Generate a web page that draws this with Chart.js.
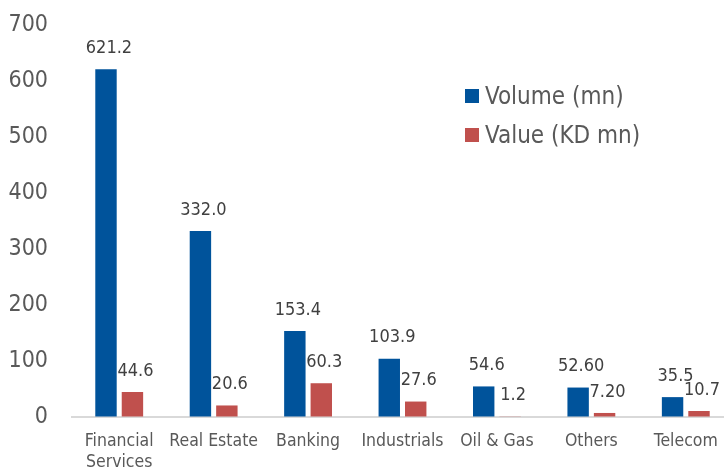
<!DOCTYPE html>
<html>
<head>
<meta charset="utf-8">
<script src="https://cdn.jsdelivr.net/npm/chart.js@4"></script>
<style>
  html, body { margin: 0; padding: 0; background: #fff; overflow: hidden; }
  #wrap { width: 734px; height: 470px; position: relative; }
</style>
</head>
<body>
<div id="wrap"><canvas id="sectorChart"></canvas></div>
<script>
const categories = [['Financial', 'Services'], 'Real Estate', 'Banking', 'Industrials', 'Oil & Gas', 'Others', 'Telecom'];
const volumeData = [621.2, 332.0, 153.4, 103.9, 54.6, 52.6, 35.5];
const valueData = [44.6, 20.6, 60.3, 27.6, 1.2, 7.2, 10.7];
const volumeLabels = ['621.2', '332.0', '153.4', '103.9', '54.6', '52.60', '35.5'];
const valueLabels = ['44.6', '20.6', '60.3', '27.6', '1.2', '7.20', '10.7'];
const yTicks = [0, 100, 200, 300, 400, 500, 600, 700];

const FONT = "'DejaVu Sans Condensed', 'DejaVu Sans', sans-serif";

// labels above each bar, drawn from the bar elements
const barLabels = {
  id: 'barLabels',
  afterDatasetsDraw(chart) {
    const ctx = chart.ctx;
    ctx.save();
    ctx.font = '18px ' + FONT;
    ctx.fillStyle = '#404040';
    ctx.textAlign = 'center';
    ctx.textBaseline = 'middle';
    chart.data.datasets.forEach((ds, i) => {
      const meta = chart.getDatasetMeta(i);
      meta.data.forEach((bar, j) => {
        ctx.fillText(ds.valueLabels[j], bar.x + 3, bar.y - 21);
      });
    });
    ctx.restore();
  }
};

// legend box inside the plot, top right
const sideLegend = {
  id: 'sideLegend',
  afterDraw(chart, args, opts) {
    const ctx = chart.ctx;
    ctx.save();
    ctx.font = '24px ' + FONT;
    ctx.textBaseline = 'middle';
    chart.data.datasets.forEach((ds, i) => {
      const y = opts.y + i * opts.rowGap;
      ctx.fillStyle = ds.backgroundColor;
      ctx.fillRect(opts.x, y - 7, 14, 14);
      ctx.fillStyle = '#595959';
      ctx.fillText(ds.label, opts.x + 20, y + 2);
    });
    ctx.restore();
  }
};

const ctx = document.getElementById('sectorChart').getContext('2d');

const sectorChart = new Chart(ctx, {
  type: 'bar',
  data: {
    labels: categories,
    datasets: [{
      label: 'Volume (mn)',
      data: volumeData,
      valueLabels: volumeLabels,
      backgroundColor: '#00539B',
      categoryPercentage: 0.56,
      barPercentage: 0.81
    }, {
      label: 'Value (KD mn)',
      data: valueData,
      valueLabels: valueLabels,
      backgroundColor: '#C0504D',
      categoryPercentage: 0.56,
      barPercentage: 0.81
    }]
  },
  options: {
    responsive: true,
    maintainAspectRatio: false,
    animation: false,
    layout: { padding: { top: 25, right: 1, left: 0, bottom: 0 } },
    scales: {
      x: {
        grid: { display: false },
        border: { display: true, color: '#D9D9D9', width: 2 },
        ticks: {
          color: '#595959',
          font: { family: FONT, size: 17.5, lineHeight: 1.2 },
          padding: 6,
          maxRotation: 0,
          autoSkip: false
        },
        afterFit(scale) { scale.height = 53; }
      },
      y: {
        min: 0,
        max: 700,
        // invisible tick marks give the gap between labels and plot
        grid: { display: true, drawOnChartArea: false, drawTicks: true, tickLength: 24, color: 'rgba(0,0,0,0)' },
        border: { display: false },
        afterBuildTicks(scale) { scale.ticks = yTicks.map(v => ({ value: v })); },
        ticks: {
          color: '#595959',
          font: { family: FONT, size: 23 },
          padding: 0
        },
        afterFit(scale) { scale.width = 72; }
      }
    },
    plugins: {
      legend: { display: false },
      tooltip: { enabled: false },
      sideLegend: { x: 465, y: 96, rowGap: 39 }
    }
  },
  plugins: [barLabels, sideLegend]
});
</script>
</body>
</html>
